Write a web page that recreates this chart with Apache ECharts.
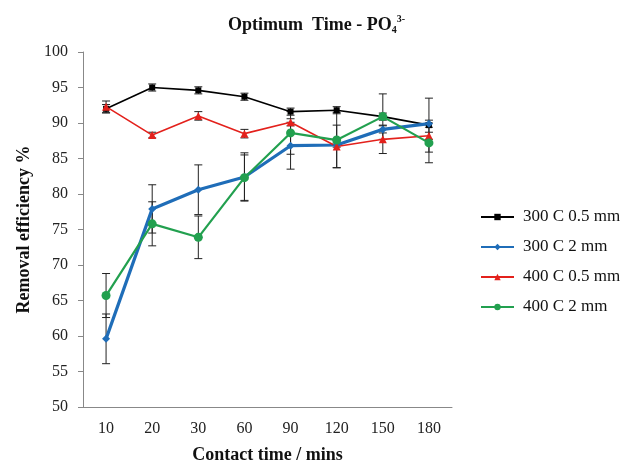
<!DOCTYPE html>
<html><head><meta charset="utf-8">
<script src="https://cdn.jsdelivr.net/npm/echarts@6/dist/echarts.min.js"></script>
<style>html,body{margin:0;padding:0;background:#fff}#c{width:633px;height:465px}</style>
</head><body><div id="c"></div>
<script>
const categories = ['10','20','30','60','90','120','150','180'];
const seriesNames = ['300 C 0.5 mm','300 C 2 mm','400 C 0.5 mm','400 C 2 mm'];
const s300_05 = [92.0, 95.0, 94.6, 93.7, 91.6, 91.8, 90.9, 89.7];
const s300_2  = [59.6, 77.9, 80.6, 82.4, 86.8, 86.9, 89.1, 89.9];
const s400_05 = [92.3, 88.3, 91.0, 88.5, 90.1, 86.7, 87.7, 88.2];
const s400_2  = [65.7, 75.8, 73.9, 82.3, 88.6, 87.6, 90.9, 87.2];
const e300_05 = [0.6, 0.5, 0.5, 0.5, 0.5, 0.5, 0.5, 3.8];
const e300_2  = [3.5, 3.4, 3.5, 3.4, 3.3, 0.3, 0.5, 0.5];
const e400_05 = [0.8, 0.4, 0.6, 0.6, 0.5, 3.0, 2.0, 0.5];
const e400_2  = [3.1, 3.1, 3.0, 3.2, 3.0, 3.9, 3.2, 2.8];

const values = [s300_05, s300_2, s400_05, s400_2];
const errors = [e300_05, e300_2, e400_05, e400_2];
const colors = ['#000000', '#1f6db8', '#e3211c', '#22a04f'];
const symbols = ['rect', 'diamond', 'triangle', 'circle'];
const symbolSizes = [6, 8, 8, 9];
const widths = [1.6, 3.2, 1.6, 2.2];

const serif = '"Liberation Serif","DejaVu Serif",serif';
const chart = echarts.init(document.getElementById('c'), null, {renderer: 'canvas'});

const errSeries = values.map((vals, k) => ({
  type: 'custom',
  silent: true,
  z: 1,
  data: vals.map((v, i) => [i, v - errors[k][i], v + errors[k][i]]),
  encode: {x: 0, y: [1, 2]},
  renderItem: function (params, api) {
    const lo = api.coord([api.value(0), api.value(1)]);
    const hi = api.coord([api.value(0), api.value(2)]);
    const w = 4;
    const st = {stroke: '#222', lineWidth: 1};
    return {type: 'group', children: [
      {type: 'line', shape: {x1: lo[0], y1: lo[1], x2: hi[0], y2: hi[1]}, style: st},
      {type: 'line', shape: {x1: lo[0]-w, y1: lo[1], x2: lo[0]+w, y2: lo[1]}, style: st},
      {type: 'line', shape: {x1: hi[0]-w, y1: hi[1], x2: hi[0]+w, y2: hi[1]}, style: st}
    ]};
  }
}));

const lineSeries = values.map((vals, k) => ({
  name: seriesNames[k],
  type: 'line',
  z: 2,
  data: vals,
  symbol: symbols[k],
  symbolSize: symbolSizes[k],
  showAllSymbol: true,
  lineStyle: {color: colors[k], width: widths[k]},
  itemStyle: {color: colors[k]},
  emphasis: {disabled: true}
}));

chart.setOption({
  animation: false,
  backgroundColor: '#fff',
  title: {
    text: '{a|Optimum  Time - PO}{sub|4}{sup|3-}',
    left: 'center',
    top: 8,
    textStyle: {
      rich: {
        a: {fontFamily: serif, fontWeight: 'bold', fontSize: 18, color: '#111', lineHeight: 24, verticalAlign: 'middle'},
        sub: {fontFamily: serif, fontWeight: 'bold', fontSize: 10, color: '#111', lineHeight: 24, verticalAlign: 'bottom', padding: [0,0,2,0]},
        sup: {fontFamily: serif, fontWeight: 'bold', fontSize: 10, color: '#111', lineHeight: 24, verticalAlign: 'top', padding: [1,0,0,0]}
      }
    }
  },
  legend: {
    orient: 'vertical',
    left: 475,
    top: 202,
    itemWidth: 33,
    itemHeight: 8,
    itemGap: 10,
    data: seriesNames,
    textStyle: {fontFamily: serif, fontSize: 17, color: '#111', padding: [0,0,0,4], lineHeight: 20}
  },
  grid: {left: 83, top: 52, width: 369, height: 355, containLabel: false, outerBoundsMode: 'none'},
  xAxis: {
    type: 'category',
    data: categories,
    boundaryGap: true,
    name: 'Contact time / mins',
    nameLocation: 'middle',
    nameGap: 39,
    nameTextStyle: {fontFamily: serif, fontWeight: 'bold', fontSize: 18, color: '#111'},
    axisLine: {lineStyle: {color: '#888', width: 1}},
    axisTick: {alignWithLabel: true, length: 5, lineStyle: {color: '#888'}},
    axisLabel: {fontFamily: serif, fontSize: 16, color: '#222', margin: 14}
  },
  yAxis: {
    type: 'value',
    min: 50,
    max: 100,
    interval: 5,
    name: 'Removal efficiency %',
    nameLocation: 'middle',
    nameGap: 50,
    nameTextStyle: {fontFamily: serif, fontWeight: 'bold', fontSize: 18, color: '#111'},
    axisLine: {show: true, lineStyle: {color: '#888', width: 1}},
    axisTick: {show: true, length: 5, lineStyle: {color: '#888'}},
    splitLine: {show: false},
    axisLabel: {fontFamily: serif, fontSize: 16, color: '#222', margin: 15}
  },
  series: [...lineSeries, ...errSeries]
});
</script></body></html>
